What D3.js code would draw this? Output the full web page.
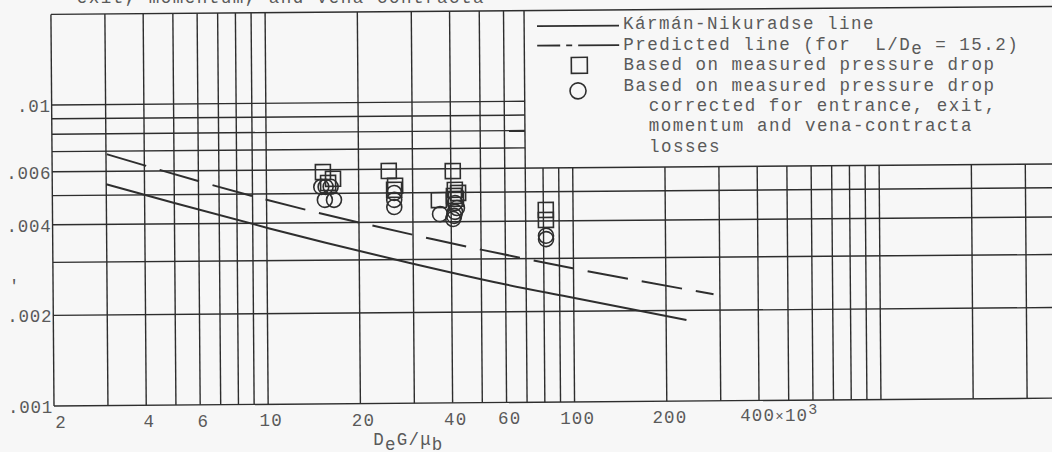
<!DOCTYPE html>
<html>
<head>
<meta charset="utf-8">
<script src="https://cdn.jsdelivr.net/npm/d3@7"></script>
<style>
  html, body { margin: 0; padding: 0; background: #f7f7f7; }
  svg { display: block; }
  text { font-family: "Liberation Mono", "DejaVu Sans Mono", monospace; fill: #5a5a5a; white-space: pre; }
</style>
</head>
<body>
<div id="chart"></div>
<script>
// Kármán-Nikuradse line (DeG/μb in thousands, friction factor)
const karmanRe = [3, 5, 10.2, 29, 57.5, 95, 233];
const karmanF = [0.00544, 0.00469, 0.00384, 0.00293, 0.00249, 0.00224, 0.00186];

// predicted line for L/De = 15.2
const predictedRe = [3.02, 9.29, 34.9, 128, 286];
const predictedF = [0.00684, 0.00488, 0.0035, 0.00264, 0.00226];

// based on measured pressure drop (squares)
const measuredRe = [15.3, 16.5, 15.9, 25.1, 26.3, 26.1, 40.6, 36.5, 41.2, 42.2, 40.9, 41.5, 81.5, 81.5];
const measuredF = [0.00589, 0.00559, 0.00542, 0.00592, 0.00528, 0.00512, 0.00589, 0.00472, 0.0051, 0.00498, 0.00487, 0.00476, 0.00435, 0.00403];

// corrected for entrance, exit, momentum and vena-contracta losses (circles)
const correctedRe = [15.1, 15.6, 16.2, 15.5, 16.6, 26.1, 26.1, 26.1, 36.8, 40.6, 41.2, 41.8, 41.2, 40.9, 81.5, 81.5];
const correctedF = [0.00526, 0.00526, 0.00526, 0.00476, 0.00476, 0.005, 0.00474, 0.00449, 0.00424, 0.00408, 0.00461, 0.00444, 0.00431, 0.00418, 0.00357, 0.00348];

const xGrid = [3, 4, 5, 6, 7, 8, 9, 10, 20, 30, 40, 50, 60, 70, 80, 90, 100, 200, 300, 400, 500, 600, 700, 800, 900, 1000, 2000, 3000, 4000, 5000];
const yGrid = [0.002, 0.003, 0.004, 0.005, 0.006, 0.007, 0.008, 0.009, 0.01];

const xTicks = [2, 4, 6, 10, 20, 40, 60, 100, 200];
const xTickLabels = ["2", "4", "6", "10", "20", "40", "60", "100", "200"];
const yTicks = [0.001, 0.002, 0.004, 0.006, 0.01];
const yTickLabels = [".001", ".002", ".004", ".006", ".01"];

// legend box sits above f = .006, right of DeG/μb = 70
const legendRe = 70;
const legendF = 0.006;

const width = 1052;
const height = 452;
const INK = "#2e2e2e";
const TILT = -0.45; // the scanned sheet is a little tilted

const x = d3.scaleLog().domain([2, 20000]).range([54, 54 + 306.4 * 4]);
const y = d3.scaleLog().domain([0.001, 0.02]).range([406, 406 - 301 * Math.log10(20)]);

const svg = d3.select("#chart").append("svg")
  .attr("width", width)
  .attr("height", height);

svg.append("rect").attr("width", width).attr("height", height).attr("fill", "#f7f7f7");

const g = svg.append("g").attr("transform", `rotate(${TILT}, 54, 406)`);

// keep glyphs level while their anchor follows the tilted sheet
function level(sel) {
  sel.attr("transform", function () {
    const t = d3.select(this);
    return `rotate(${-TILT}, ${t.attr("x")}, ${t.attr("y")})`;
  });
}

////////////////////////////////////////////////////////////////////////////////////

const grid = g.append("g").attr("stroke", INK).attr("stroke-width", 1.4);

grid.selectAll("line.h")
  .data(yGrid)
  .enter()
  .append("line")
  .attr("x1", x(2))
  .attr("x2", (d) => (d > legendF ? x(legendRe) : width + 60))
  .attr("y1", (d) => y(d))
  .attr("y2", (d) => y(d));

grid.selectAll("line.v")
  .data(xGrid)
  .enter()
  .append("line")
  .attr("x1", (d) => x(d))
  .attr("x2", (d) => x(d))
  .attr("y1", y(0.001))
  .attr("y2", (d) => (d > legendRe ? y(legendF) : y(0.02)));

// frame
grid.append("line").attr("x1", x(2)).attr("x2", x(2)).attr("y1", y(0.001)).attr("y2", y(0.02));
grid.append("line").attr("x1", x(2)).attr("x2", width + 60).attr("y1", y(0.001)).attr("y2", y(0.001));
grid.append("line").attr("x1", x(2)).attr("x2", width + 60).attr("y1", y(0.02)).attr("y2", y(0.02));

////////////////////////////////////////////////////////////////////////////////////

const line = d3.line()
  .x((d) => x(d[0]))
  .y((d) => y(d[1]))
  .curve(d3.curveMonotoneX);

g.append("path")
  .datum(d3.zip(karmanRe, karmanF))
  .attr("d", line)
  .attr("fill", "none")
  .attr("stroke", INK)
  .attr("stroke-width", 2);

g.append("path")
  .datum(d3.zip(predictedRe, predictedF))
  .attr("d", line)
  .attr("fill", "none")
  .attr("stroke", INK)
  .attr("stroke-width", 2)
  .attr("stroke-dasharray", "41,14");

g.append("g")
  .selectAll("rect")
  .data(d3.zip(measuredRe, measuredF))
  .enter()
  .append("rect")
  .attr("x", (d) => x(d[0]) - 7.5)
  .attr("y", (d) => y(d[1]) - 7.5)
  .attr("width", 15)
  .attr("height", 15)
  .attr("fill", "none")
  .attr("stroke", INK)
  .attr("stroke-width", 1.6);

g.append("g")
  .selectAll("circle")
  .data(d3.zip(correctedRe, correctedF))
  .enter()
  .append("circle")
  .attr("cx", (d) => x(d[0]))
  .attr("cy", (d) => y(d[1]))
  .attr("r", 7.5)
  .attr("fill", "none")
  .attr("stroke", INK)
  .attr("stroke-width", 1.6);

////////////////////////////////////////////////////////////////////////////////////

g.append("g")
  .selectAll("text")
  .data(yTicks)
  .enter()
  .append("text")
  .attr("x", x(2) - 1)
  .attr("y", (d) => y(d) + 7)
  .attr("text-anchor", "end")
  .attr("font-size", "17.5px")
  .attr("letter-spacing", "0.75px")
  .text((d, i) => yTickLabels[i])
  .call(level);

g.append("g")
  .selectAll("text")
  .data(xTicks)
  .enter()
  .append("text")
  .attr("x", (d) => (d === 2 ? x(d) + 1 : x(d) + 3))
  .attr("y", y(0.001) + 22)
  .attr("text-anchor", (d) => (d === 2 ? "start" : "middle"))
  .attr("font-size", "17.5px")
  .attr("letter-spacing", "1.2px")
  .text((d, i) => xTickLabels[i])
  .call(level);

const bigTick = g.append("text")
  .attr("x", x(400) - 19)
  .attr("y", y(0.001) + 20)
  .attr("font-size", "17.5px")
  .attr("letter-spacing", "1.2px")
  .call(level);
bigTick.append("tspan").text("400");
bigTick.append("tspan").attr("font-size", "14px").text("×");
bigTick.append("tspan").text("10");
bigTick.append("tspan").attr("dy", -7).attr("font-size", "15px").text("3");

const xTitle = g.append("text")
  .attr("x", 373)
  .attr("y", 448)
  .attr("font-size", "17.5px")
  .attr("letter-spacing", "1.2px")
  .call(level);
xTitle.append("tspan").text("D");
xTitle.append("tspan").attr("dy", 5).text("e");
xTitle.append("tspan").attr("dy", -5).text("G/μ");
xTitle.append("tspan").attr("dy", 5).text("b");

// stray mark and the caption cut off at the top of the scan
g.append("text").attr("x", 10).attr("y", 291).attr("font-size", "17px").text("'").call(level);
g.append("text")
  .attr("x", 80)
  .attr("y", 3)
  .attr("font-size", "17.5px")
  .attr("letter-spacing", "1.5px")
  .text("exit, momentum, and vena-contracta")
  .call(level);

////////////////////////////////////////////////////////////////////////////////////

const legend = g.append("g");
const rowY = (i) => 33.8 + i * 20.43;

legend.append("line")
  .attr("x1", 540).attr("x2", 622)
  .attr("y1", 30).attr("y2", 30)
  .attr("stroke", INK).attr("stroke-width", 1.8);

legend.append("path")
  .attr("d", "M540,49.5H563M569,49.5H575M581,49.5H622")
  .attr("stroke", INK).attr("stroke-width", 1.8);

legend.append("rect")
  .attr("x", 574).attr("y", 61.5)
  .attr("width", 16).attr("height", 16)
  .attr("fill", "none").attr("stroke", INK).attr("stroke-width", 1.6);

legend.append("circle")
  .attr("cx", 580.5).attr("cy", 95)
  .attr("r", 8)
  .attr("fill", "none").attr("stroke", INK).attr("stroke-width", 1.6);

const legendText = legend.append("g")
  .attr("font-size", "17.5px")
  .attr("letter-spacing", "1.5px");

legendText.append("text").attr("x", 626).attr("y", rowY(0)).text("Kármán-Nikuradse line").call(level);

const predicted = legendText.append("text").attr("x", 626).attr("y", rowY(1)).call(level);
predicted.append("tspan").text("Predicted line (for  L/D");
predicted.append("tspan").attr("dy", 4).text("e");
predicted.append("tspan").attr("dy", -4).text(" = 15.2)");

legendText.append("text").attr("x", 626).attr("y", rowY(2)).text("Based on measured pressure drop").call(level);
legendText.append("text").attr("x", 626).attr("y", rowY(3)).text("Based on measured pressure drop").call(level);
legendText.append("text").attr("x", 651).attr("y", rowY(4)).text("corrected for entrance, exit,").call(level);
legendText.append("text").attr("x", 651).attr("y", rowY(5)).text("momentum and vena-contracta").call(level);
legendText.append("text").attr("x", 651).attr("y", rowY(6)).text("losses").call(level);
</script>
</body>
</html>
